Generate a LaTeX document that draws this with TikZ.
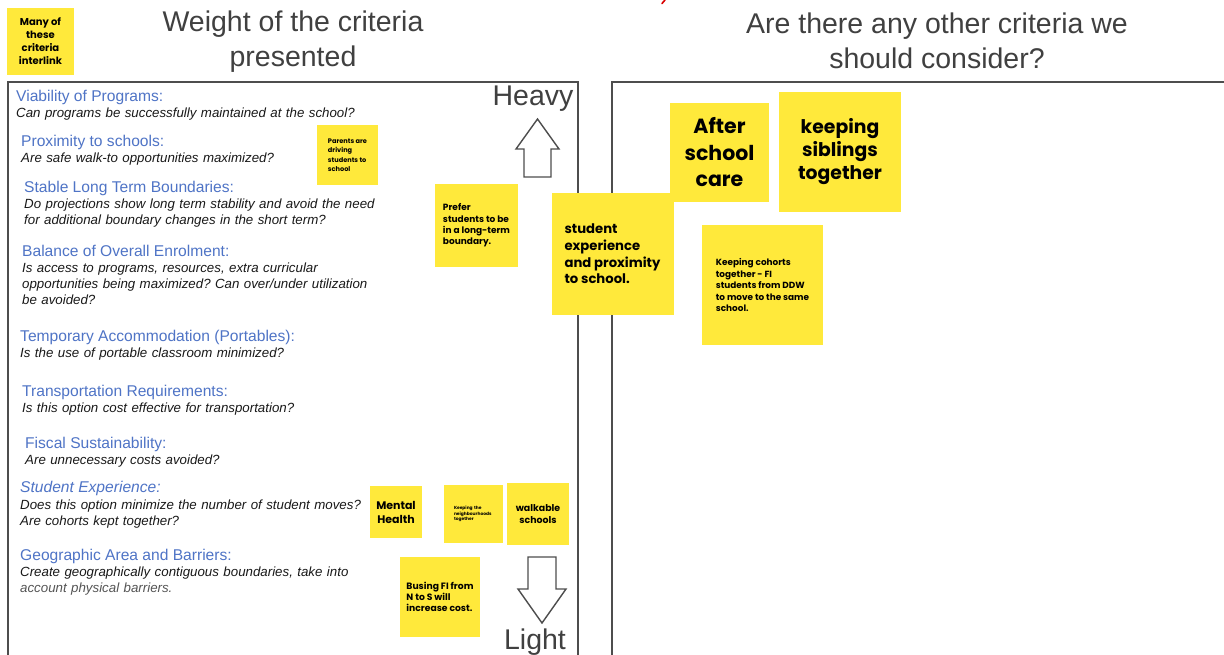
\documentclass[tikz,border=0pt]{standalone}
\usepackage{fontspec}
\setmainfont{Liberation Sans}
\newfontfamily\stickyfont{Poppins}
\definecolor{sticky}{HTML}{FFE93B}
\definecolor{crit}{HTML}{4F74C6}
\definecolor{framec}{HTML}{4D4D4D}
\definecolor{titlec}{HTML}{404040}
\definecolor{fadeq}{HTML}{555555}
\frenchspacing
\begin{document}
\begin{tikzpicture}[x=1pt,y=-1pt,
  stickynote/.style={fill=sticky, inner sep=0pt, text=black, font=\stickyfont\bfseries},
  crithead/.style={anchor=base west, inner sep=0pt, text=crit, font=\fontsize{15.6}{17}\selectfont},
  critq/.style={anchor=base west, inner sep=0pt, text width=440pt, align=left, text=black!90, font=\itshape\fontsize{13.3}{16.4}\selectfont},
  frame/.style={draw=framec, line width=1.6pt},
  bigarrow/.style={draw=framec, line width=1.4pt, fill=white, line join=miter},
  titletext/.style={text=titlec, align=center, inner sep=0pt, font=\fontsize{28.5}{35}\selectfont},
  weight/.style={text=titlec, inner sep=0pt, font=\fontsize{28.5}{32}\selectfont}]
\useasboundingbox (0,0) rectangle (1224,654);
\fill[white] (0,0) rectangle (1224,654);

% red fragment at the very top
\draw[red!85!black, line width=1.6pt, line cap=round] (665,0) -- (662,3.5);

% frames
\coordinate (lbl) at (8,662);
\coordinate (ltl) at (8,82);
\coordinate (ltr) at (578,82);
\coordinate (lbr) at (578,662);
\draw[frame] (lbl) -- (ltl) -- (ltr) -- (lbr);
\coordinate (rbl) at (612,662);
\coordinate (rtl) at (612,82);
\coordinate (rtr) at (1230,82);
\draw[frame] (rbl) -- (rtl) -- (rtr);

% titles
\node[titletext] (t1) at (293,42) {Weight of the criteria\\presented};
\node[titletext] (t2) at (937,41) {Are there any other criteria we\\should consider?};

% top-left sticky
\node[stickynote, minimum width=67pt, minimum height=67pt, align=center,
  font=\stickyfont\bfseries\fontsize{10}{13}\selectfont] (many) at (40.5,41.5)
  {Many of\\these\\criteria\\interlink};

% criteria
\node[crithead] (h1) at (16,101) {Viability of Programs:};
\node[critq] (q1) at (16,117) {Can programs be successfully maintained at the school?};
\node[crithead] (h2) at (21,146) {Proximity to schools:};
\node[critq] (q2) at (21,162) {Are safe walk-to opportunities maximized?};
\node[crithead] (h3) at (24,192) {Stable Long Term Boundaries:};
\node[critq] (q3) at (24,208) {Do projections show long term stability and avoid the need\\for additional boundary changes in the short term?};
\node[crithead] (h4) at (22,256) {Balance of Overall Enrolment:};
\node[critq] (q4) at (22,272) {Is access to programs, resources, extra curricular\\opportunities being maximized? Can over/under utilization\\be avoided?};
\node[crithead] (h5) at (20,341) {Temporary Accommodation (Portables):};
\node[critq] (q5) at (20,357) {Is the use of portable classroom minimized?};
\node[crithead] (h6) at (22,396) {Transportation Requirements:};
\node[critq] (q6) at (22,412) {Is this option cost effective for transportation?};
\node[crithead] (h7) at (25,448) {Fiscal Sustainability:};
\node[critq] (q7) at (25,464) {Are unnecessary costs avoided?};
\node[crithead, font=\itshape\fontsize{15.6}{17}\selectfont] (h8) at (20,492) {Student Experience:};
\node[critq] (q8) at (20,509) {Does this option minimize the number of student moves?\\Are cohorts kept together?};
\node[crithead] (h9) at (20,560) {Geographic Area and Barriers:};
\node[critq] (q9) at (20,576) {Create geographically contiguous boundaries, take into\\\textcolor{fadeq}{account physical barriers.}};

% heavy / light
\node[weight] (heavy) at (533,99) {Heavy};
\draw[bigarrow] (537.5,119) -- (559,149) -- (551,149) -- (551,177) -- (524,177) -- (524,149) -- (516,149) -- cycle;
\draw[bigarrow] (528,557) -- (556,557) -- (556,589) -- (566,589) -- (542,623) -- (518,589) -- (528,589) -- cycle;
\node[weight] (light) at (535,642) {Light};

% stickies left panel
\node[stickynote, minimum width=61pt, minimum height=60pt, align=left,
  font=\stickyfont\bfseries\fontsize{6.6}{9.5}\selectfont] (parents) at (347.5,155)
  {Parents are\\driving\\students to\\school};
\node[stickynote, minimum width=83pt, minimum height=83pt, align=left,
  font=\stickyfont\bfseries\fontsize{9}{11.4}\selectfont] (prefer) at (476.5,225.5)
  {Prefer\\students to be\\in a long-term\\boundary.};
\node[stickynote, minimum width=52pt, minimum height=52pt, align=center,
  font=\stickyfont\bfseries\fontsize{11}{14}\selectfont] (mental) at (396,512)
  {Mental\\Health};
\node[stickynote, minimum width=59pt, minimum height=58pt, text width=38pt, align=left,
  font=\stickyfont\bfseries\fontsize{4.4}{5.6}\selectfont] (neigh) at (473,514)
  {Keeping the\\neighbourhoods\\together};
\node[stickynote, minimum width=62pt, minimum height=62pt, align=center,
  font=\stickyfont\bfseries\fontsize{9.4}{11.5}\selectfont] (walk) at (538,514)
  {walkable\\schools};
\node[stickynote, minimum width=80pt, minimum height=80pt, align=left,
  font=\stickyfont\bfseries\fontsize{9.2}{10.8}\selectfont] (busing) at (440,597)
  {Busing FI from\\N to S will\\increase cost.};

% stickies right panel
\node[stickynote, minimum width=99pt, minimum height=99pt, align=center,
  font=\stickyfont\bfseries\fontsize{20.5}{26.5}\selectfont] (after) at (719.5,152.5)
  {After\\school\\care};
\node[stickynote, minimum width=122pt, minimum height=122pt, align=left,
  font=\stickyfont\bfseries\fontsize{13.2}{16.7}\selectfont] (stuexp) at (612.5,254)
  {student\\experience\\and proximity\\to school.};
\node[stickynote, minimum width=122pt, minimum height=120pt, align=center,
  font=\stickyfont\bfseries\fontsize{18.8}{23}\selectfont] (siblings) at (840,152)
  {keeping\\siblings\\together};
\node[stickynote, minimum width=121pt, minimum height=120pt, align=left,
  font=\stickyfont\bfseries\fontsize{8.9}{11.5}\selectfont] (cohorts) at (762.5,285)
  {Keeping cohorts\\together - FI\\students from DDW\\to move to the same\\school.};
\end{tikzpicture}
\end{document}
